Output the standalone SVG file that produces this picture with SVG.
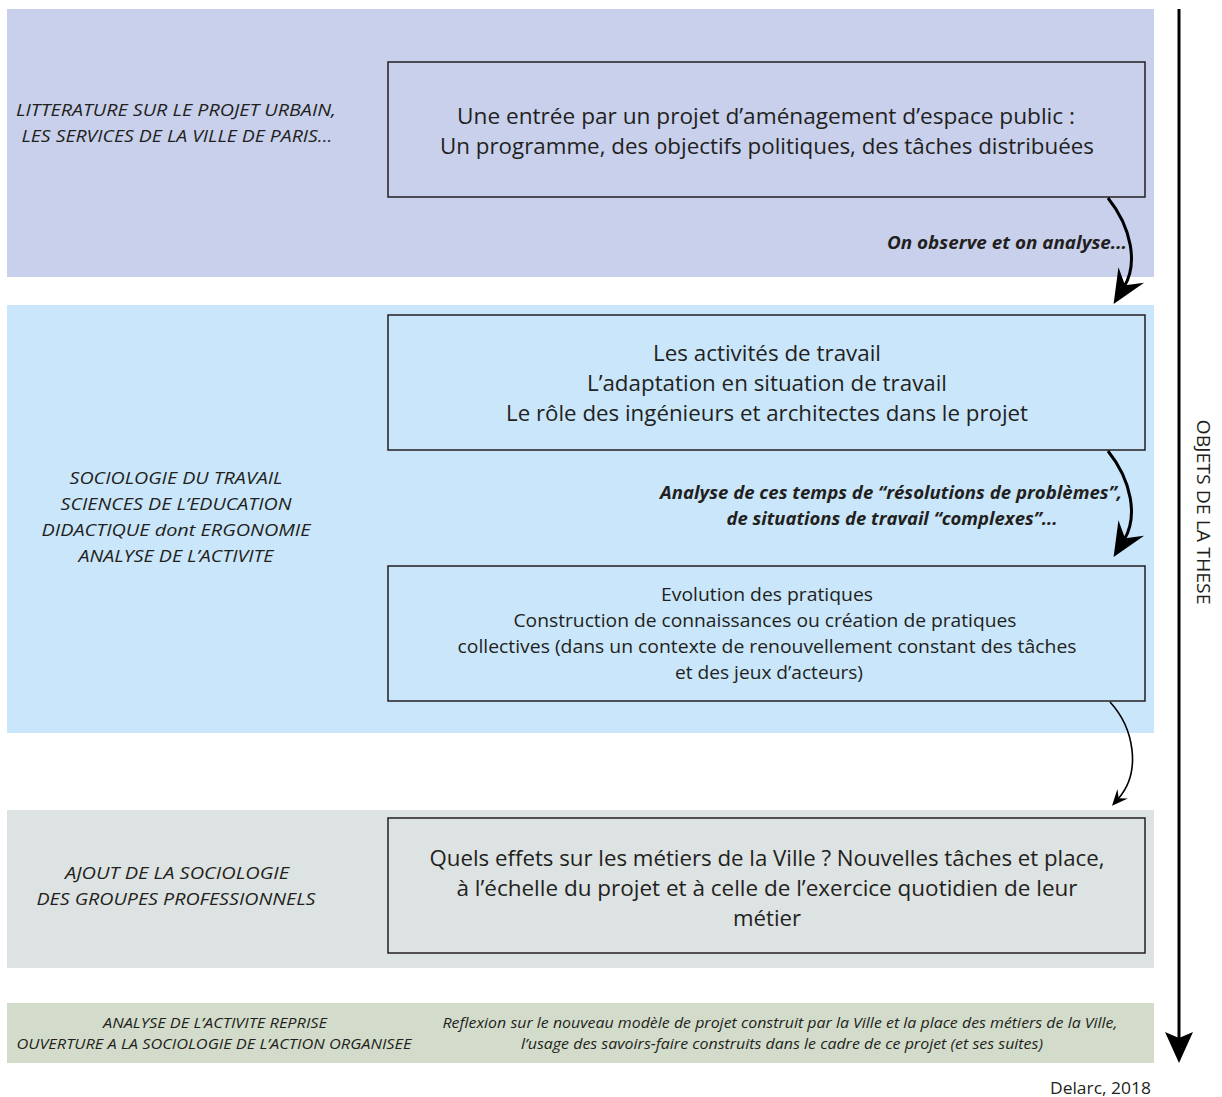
<svg xmlns="http://www.w3.org/2000/svg" width="1222" height="1097" viewBox="0 0 1222 1097">
<style>
text{font-family:"Open Sans","Liberation Sans",sans-serif;fill:#231f20}
.box{stroke:#231f20;stroke-width:1.5}
.big{font-size:21px;text-anchor:middle}
.mid{font-size:18px;text-anchor:middle}
.lab{font-size:17px;font-style:italic;text-anchor:middle}
.sm{font-size:15px;font-style:italic;text-anchor:middle}
.ann{font-size:17px;font-style:italic;font-weight:bold;text-anchor:middle}
.conn{fill:none;stroke:#000}
</style>
<defs>
<marker id="ahBig" markerUnits="userSpaceOnUse" viewBox="-36 -18 38 36" refX="-20" refY="0" markerWidth="38" markerHeight="36" orient="auto">
<path d="M0,0 L-34,-15 L-22,0 L-34,15 Z" fill="#000"/>
</marker>
<marker id="ahSmall" markerUnits="userSpaceOnUse" viewBox="-18 -10 20 20" refX="-9" refY="0" markerWidth="20" markerHeight="20" orient="auto">
<path d="M0,0 L-16,-7 L-10,0 L-16,7 Z" fill="#000"/>
</marker>
</defs>

<g id="bands">
<rect x="7" y="9" width="1147" height="268" fill="#c8d0ec"/>
<rect x="7" y="305" width="1147" height="428" fill="#c9e6fa"/>
<rect x="7" y="810" width="1147" height="158" fill="#dde2e2"/>
<rect x="7" y="1003" width="1147" height="60" fill="#d3dccb"/>
</g>

<g id="label-litterature">
<text class="lab" x="176" y="116" textLength="320" lengthAdjust="spacingAndGlyphs">LITTERATURE SUR LE PROJET URBAIN,</text>
<text class="lab" x="177" y="142" textLength="311" lengthAdjust="spacingAndGlyphs">LES SERVICES DE LA VILLE DE PARIS...</text>
</g>

<g id="label-sociologie">
<text class="lab" x="176" y="484" textLength="213" lengthAdjust="spacingAndGlyphs">SOCIOLOGIE DU TRAVAIL</text>
<text class="lab" x="176" y="510" textLength="231" lengthAdjust="spacingAndGlyphs">SCIENCES DE L’EDUCATION</text>
<text class="lab" x="176" y="536" textLength="269" lengthAdjust="spacingAndGlyphs">DIDACTIQUE dont ERGONOMIE</text>
<text class="lab" x="176" y="562" textLength="195" lengthAdjust="spacingAndGlyphs">ANALYSE DE L’ACTIVITE</text>
</g>

<g id="label-ajout">
<text class="lab" x="177" y="879" textLength="224" lengthAdjust="spacingAndGlyphs">AJOUT DE LA SOCIOLOGIE</text>
<text class="lab" x="176" y="905" textLength="279" lengthAdjust="spacingAndGlyphs">DES GROUPES PROFESSIONNELS</text>
</g>

<g id="label-analyse-reprise">
<text class="sm" x="215" y="1028" textLength="224" lengthAdjust="spacingAndGlyphs">ANALYSE DE L’ACTIVITE REPRISE</text>
<text class="sm" x="214" y="1049" textLength="395" lengthAdjust="spacingAndGlyphs">OUVERTURE A LA SOCIOLOGIE DE L’ACTION ORGANISEE</text>
</g>

<g id="label-reflexion">
<text class="sm" x="780" y="1028" textLength="675" lengthAdjust="spacingAndGlyphs">Reflexion sur le nouveau modèle de projet construit par la Ville et la place des métiers de la Ville,</text>
<text class="sm" x="782" y="1049" textLength="522" lengthAdjust="spacingAndGlyphs">l’usage des savoirs-faire construits dans le cadre de ce projet (et ses suites)</text>
</g>

<g id="node-entree">
<rect class="box" x="388" y="62" width="757" height="135" fill="#c8d0ec"/>
<text class="big" x="766" y="124" textLength="618" lengthAdjust="spacingAndGlyphs">Une entrée par un projet d’aménagement d’espace public :</text>
<text class="big" x="767" y="154" textLength="654" lengthAdjust="spacingAndGlyphs">Un programme, des objectifs politiques, des tâches distribuées</text>
</g>

<g id="node-activites">
<rect class="box" x="388" y="315" width="757" height="135" fill="#c9e6fa"/>
<text class="big" x="767" y="361" textLength="228" lengthAdjust="spacingAndGlyphs">Les activités de travail</text>
<text class="big" x="767" y="391" textLength="360" lengthAdjust="spacingAndGlyphs">L’adaptation en situation de travail</text>
<text class="big" x="767" y="421" textLength="522" lengthAdjust="spacingAndGlyphs">Le rôle des ingénieurs et architectes dans le projet</text>
</g>

<g id="node-evolution">
<rect class="box" x="388" y="566" width="757" height="135" fill="#c9e6fa"/>
<text class="mid" x="767" y="601" textLength="212" lengthAdjust="spacingAndGlyphs">Evolution des pratiques</text>
<text class="mid" x="765" y="627" textLength="503" lengthAdjust="spacingAndGlyphs">Construction de connaissances ou création de pratiques</text>
<text class="mid" x="767" y="653" textLength="619" lengthAdjust="spacingAndGlyphs">collectives (dans un contexte de renouvellement constant des tâches</text>
<text class="mid" x="769" y="679" textLength="188" lengthAdjust="spacingAndGlyphs">et des jeux d’acteurs)</text>
</g>

<g id="node-effets">
<rect class="box" x="388" y="818" width="757" height="135" fill="#dde2e2"/>
<text class="big" x="767" y="866" textLength="675" lengthAdjust="spacingAndGlyphs">Quels effets sur les métiers de la Ville ? Nouvelles tâches et place,</text>
<text class="big" x="767" y="896" textLength="621" lengthAdjust="spacingAndGlyphs">à l’échelle du projet et à celle de l’exercice quotidien de leur</text>
<text class="big" x="767" y="926" textLength="68" lengthAdjust="spacingAndGlyphs">métier</text>
</g>

<g id="connectors">
<path class="conn" d="M1108,198 C1132,228 1138,264 1124,287" stroke-width="3" marker-end="url(#ahBig)"/>
<path class="conn" d="M1108,451 C1132,481 1138,517 1124,540" stroke-width="3" marker-end="url(#ahBig)"/>
<path class="conn" d="M1110,702 C1134,728 1142,772 1118,799" stroke-width="1.6" marker-end="url(#ahSmall)"/>
<text class="ann" x="1007" y="249" textLength="240" lengthAdjust="spacingAndGlyphs">On observe et on analyse...</text>
<text class="ann" x="891" y="499" textLength="462" lengthAdjust="spacingAndGlyphs">Analyse de ces temps de “résolutions de problèmes”,</text>
<text class="ann" x="892" y="525" textLength="331" lengthAdjust="spacingAndGlyphs">de situations de travail “complexes”...</text>
</g>

<g id="axis">
<line x1="1179" y1="9" x2="1179" y2="1040" stroke="#000" stroke-width="3"/>
<path d="M1179,1063 L1165,1032 L1179,1038 L1193,1032 Z" fill="#000"/>
<text transform="translate(1197,512) rotate(90)" style="font-size:18px;text-anchor:middle" textLength="185" lengthAdjust="spacingAndGlyphs">OBJETS DE LA THESE</text>
</g>

<g id="credit">
<text x="1151" y="1094" style="font-size:16px;text-anchor:end" textLength="101" lengthAdjust="spacingAndGlyphs">Delarc, 2018</text>
</g>
</svg>
